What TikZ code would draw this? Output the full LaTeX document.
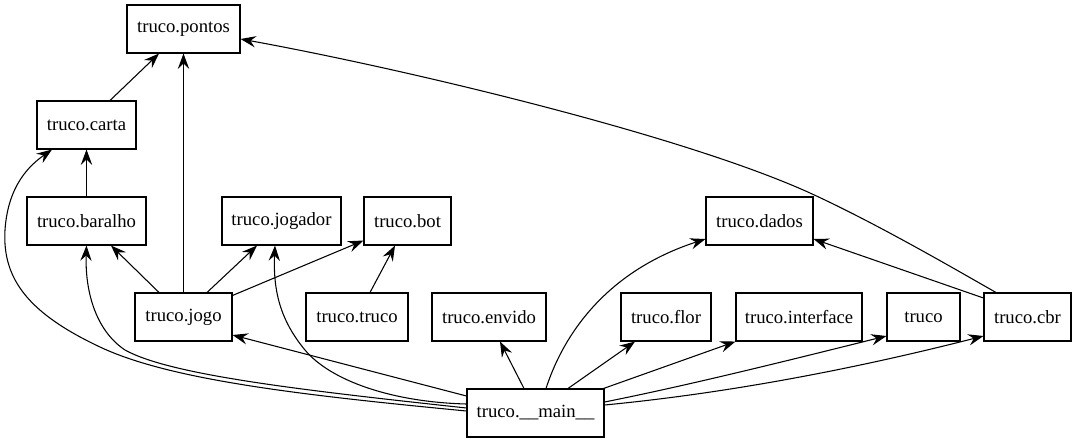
\documentclass[tikz,border=0pt]{standalone}
\usepackage{fontspec}
\setmainfont{Liberation Serif}
\usetikzlibrary{arrows.meta,calc}
\begin{document}
\begin{tikzpicture}[x=0.75pt,y=-0.75pt,
  box/.style={draw,line width=0.8pt,minimum height=36pt,inner sep=0pt,font=\fontsize{14}{16}\selectfont},
  wd/.style={minimum width=#1*0.75pt},
  dep/.style={line width=0.8pt,-{Stealth[length=11.5pt,width=8.5pt,inset=4pt]}}]
\useasboundingbox (0,0) rectangle (1077,443);
% nodes
\node[box,wd=113] (pontos) at (183.5,29) {truco.pontos};
\node[box,wd=99] (carta) at (86.5,125) {truco.carta};
\node[box,wd=119] (baralho) at (86.5,221) {truco.baralho};
\node[box,wd=119] (jogador) at (281.5,221) {truco.jogador};
\node[box,wd=87] (bot) at (407.5,221) {truco.bot};
\node[box,wd=107] (dados) at (759.5,221) {truco.dados};
\node[box,wd=97] (jogo) at (183.5,317) {truco.jogo};
\node[box,wd=102] (ttruco) at (357,317) {truco.truco};
\node[box,wd=114] (envido) at (489,317) {truco.envido};
\node[box,wd=90] (flor) at (666,317) {truco.flor};
\node[box,wd=126] (interface) at (799,317) {truco.interface};
\node[box,wd=73] (truco) at (923.5,317) {truco};
\node[box,wd=87] (cbr) at (1027.5,317) {truco.cbr};
\node[box,wd=137] (main) at (535.5,413) {truco.\_\_main\_\_};
% straight edges
\draw[dep] ($(carta.north)+(23.5,0)$) -- ($(pontos.south)+(-24.5,0)$);
\draw[dep] (jogo.north) -- (pontos.south);
\draw[dep] (baralho.north) -- (carta.south);
\draw[dep] ($(jogo.north)+(-24.5,0)$) -- ($(baralho.south)+(24.5,0)$);
\draw[dep] ($(jogo.north)+(23.5,0)$) -- ($(jogador.south)+(-24.5,0)$);
\draw[dep] ($(jogo.north east)+(0,3)$) -- ($(bot.south west)+(0,-5)$);
\draw[dep] ($(ttruco.north)+(13,0)$) -- ($(bot.south)+(-12.5,0)$);
\draw[dep] ($(main.west)+(0,-17)$) -- ($(jogo.east)+(0,18)$);
\draw[dep] ($(main.north)+(-11.5,0)$) -- ($(envido.south)+(11,0)$);
\draw[dep] ($(main.north)+(32.5,0)$) -- ($(flor.south)+(-31,0)$);
\draw[dep] ($(main.north east)+(-1,0)$) -- (interface.south west);
\draw[dep] ($(cbr.west)+(0,-19)$) -- ($(dados.east)+(0,18)$);
% curved edges
\draw[dep] ($(main.north)+(10.5,0)$) .. controls (565,330) and (610,270) .. ($(dados.west)+(0,18)$);
\draw[dep] ($(main.east)+(0,-11)$) .. controls (690,385) and (790,360) .. ($(truco.west)+(0,19)$);
\draw[dep] ($(main.east)+(0,-8)$) .. controls (740,392) and (870,365) .. ($(cbr.west)+(0,19)$);
\draw[dep] ($(cbr.north)+(-31.5,0)$) .. controls (965,275) and (880,225) .. (810,193)
  .. controls (680,134) and (400,68) .. ($(pontos.east)+(0,10)$);
\draw[dep] ($(main.west)+(0,-2)$) .. controls (300,395) and (170,380) .. (100,347)
  .. controls (30,314) and (2,280) .. (5,230)
  .. controls (8,185) and (30,165) .. ($(carta.south)+(-34.5,0)$);
\draw[dep] ($(main.west)+(0,-5)$) .. controls (300,390) and (170,375) .. (125,350)
  .. controls (95,330) and (85,290) .. (baralho.south);
\draw[dep] ($(main.west)+(0,-9)$) .. controls (390,402) and (330,380) .. (305,350)
  .. controls (280,320) and (273,290) .. ($(jogador.south)+(-6.5,0)$);
\end{tikzpicture}
\end{document}
